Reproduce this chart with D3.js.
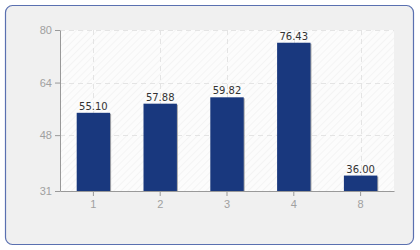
<!DOCTYPE html>
<html>
<head>
<meta charset="utf-8">
<script src="https://cdn.jsdelivr.net/npm/d3@7"></script>
<style>
  body { margin: 0; background: #fff; }
  svg { display: block; font-family: "DejaVu Sans", sans-serif; }
</style>
</head>
<body>
<div id="chart"></div>
<script>
let categories = ['1', '2', '3', '4', '8'];
let values = [55.10, 57.88, 59.82, 76.43, 36.00];
let yTicks = [31, 48, 64, 80];

let width = 420, height = 250;
let margin = { top: 30, right: 26, bottom: 59, left: 60 };

let svg = d3.select('#chart').append('svg')
    .attr('width', width).attr('height', height);

let defs = svg.append('defs');
let hatch = defs.append('pattern')
    .attr('id', 'hatch')
    .attr('patternUnits', 'userSpaceOnUse')
    .attr('width', 5).attr('height', 5)
    .attr('patternTransform', 'rotate(45)');
hatch.append('rect').attr('width', 5).attr('height', 5).attr('fill', '#fcfcfc');
hatch.append('line')
    .attr('x1', 0).attr('y1', 0).attr('x2', 0).attr('y2', 5)
    .attr('stroke', '#ececec').attr('stroke-width', 1);

// outer panel
svg.append('rect')
    .attr('x', 5.5).attr('y', 5.5)
    .attr('width', 408).attr('height', 239)
    .attr('rx', 7)
    .attr('fill', '#f0f0f0')
    .attr('stroke', '#5a70b0')
    .attr('stroke-width', 1.2);

let innerW = width - margin.left - margin.right;
let innerH = height - margin.top - margin.bottom;

let x = d3.scaleBand().domain(categories).range([margin.left, margin.left + innerW]);
let y = d3.scaleLinear().domain([31, 80]).range([margin.top + innerH, margin.top]);

// plot background
svg.append('rect')
    .attr('x', margin.left).attr('y', margin.top)
    .attr('width', innerW).attr('height', innerH)
    .attr('fill', 'url(#hatch)');

// grid
svg.append('g')
    .selectAll('line')
    .data(yTicks.slice(1))
    .join('line')
    .attr('x1', margin.left).attr('x2', margin.left + innerW)
    .attr('y1', d => Math.round(y(d)) + 0.5).attr('y2', d => Math.round(y(d)) + 0.5)
    .attr('stroke', '#e4e4e4').attr('stroke-dasharray', '5,4');

svg.append('g')
    .selectAll('line')
    .data(categories)
    .join('line')
    .attr('x1', d => Math.round(x(d) + x.bandwidth() / 2) + 0.5)
    .attr('x2', d => Math.round(x(d) + x.bandwidth() / 2) + 0.5)
    .attr('y1', margin.top).attr('y2', margin.top + innerH)
    .attr('stroke', '#e4e4e4').attr('stroke-dasharray', '5,4');

// bars
let barW = x.bandwidth() / 2;
let bars = svg.append('g').selectAll('g')
    .data(values)
    .join('g');

bars.append('rect')
    .attr('x', (d, i) => x(categories[i]) + x.bandwidth() / 2 - barW / 2 + 1)
    .attr('y', d => y(d) + 2)
    .attr('width', barW)
    .attr('height', d => y(31) - y(d) - 2)
    .attr('fill', '#a8a8a8');

bars.append('rect')
    .attr('x', (d, i) => x(categories[i]) + x.bandwidth() / 2 - barW / 2)
    .attr('y', d => y(d) + 1)
    .attr('width', barW)
    .attr('height', d => y(31) - y(d) - 1)
    .attr('fill', '#19387e');

bars.append('text')
    .attr('x', (d, i) => x(categories[i]) + x.bandwidth() / 2)
    .attr('y', d => y(d) - 2)
    .attr('text-anchor', 'middle')
    .attr('font-size', 10)
    .attr('fill', '#333')
    .text(d => d.toFixed(2));

// axes
let yAxis = svg.append('g')
    .attr('transform', `translate(${margin.left},0)`)
    .call(d3.axisLeft(y).tickValues(yTicks).tickSize(5).tickSizeOuter(0));
let xAxis = svg.append('g')
    .attr('transform', `translate(0,${margin.top + innerH})`)
    .call(d3.axisBottom(x).tickSize(5).tickSizeOuter(0));

[yAxis, xAxis].forEach(a => {
    a.select('.domain').attr('stroke', '#999');
    a.selectAll('.tick line').attr('stroke', '#999');
    a.selectAll('.tick text')
        .attr('fill', '#a0a0a0')
        .attr('font-size', 11)
        .attr('font-family', '"Liberation Sans", sans-serif');
});
yAxis.selectAll('.tick text').attr('x', -8);
xAxis.selectAll('.tick text').attr('y', 9);
</script>
</body>
</html>
